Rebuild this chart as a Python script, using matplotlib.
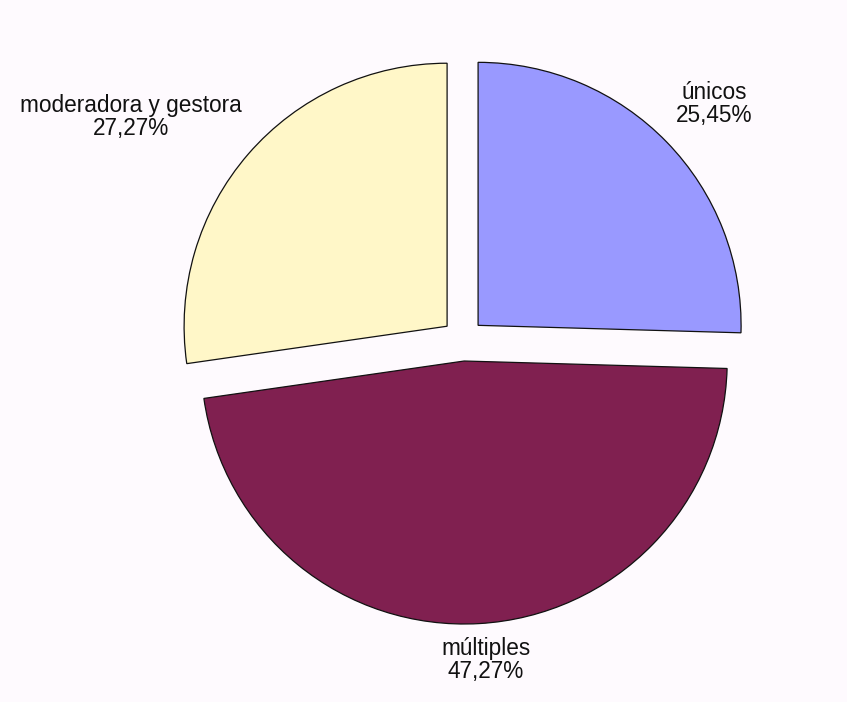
import matplotlib
matplotlib.use("Agg")
import matplotlib.pyplot as plt

categories = ["únicos", "múltiples", "moderadora y gestora"]
values = [25.45, 47.27, 27.27]
value_labels = ["25,45%", "47,27%", "27,27%"]
colors = ["#9999FF", "#802050", "#FFF7C8"]

W, H = 847, 702
cx, cy, R = 463, 340, 263  # pixel centre and radius of the pie

plt.rcParams['font.family'] = ['Liberation Sans', 'DejaVu Sans']
fig = plt.figure(figsize=(W / 100, H / 100), dpi=100)
bg = "#FEFAFE"
fig.patch.set_facecolor(bg)
ax = fig.add_axes([0, 0, 1, 1])
ax.set_facecolor(bg)

ax.pie(values, colors=colors, startangle=90, counterclock=False,
       explode=[0.08, 0.08, 0.08], radius=1.0,
       wedgeprops=dict(edgecolor="#111111", linewidth=0.9))
ax.set_aspect('auto')
ax.set_xlim(-cx / R, (W - cx) / R)
ax.set_ylim(-(H - cy) / R, cy / R)
ax.axis('off')

label_pos = [(714, 104), (486, 660), (131, 117)]
for (px, py), cat, vl in zip(label_pos, categories, value_labels):
    ax.text(px / W, 1 - py / H, f"{cat}\n{vl}", transform=ax.transAxes,
            ha='center', va='center', fontsize=16.3, color='#111111',
            linespacing=1.05)

fig.savefig("out.png", dpi=100, facecolor=bg)
